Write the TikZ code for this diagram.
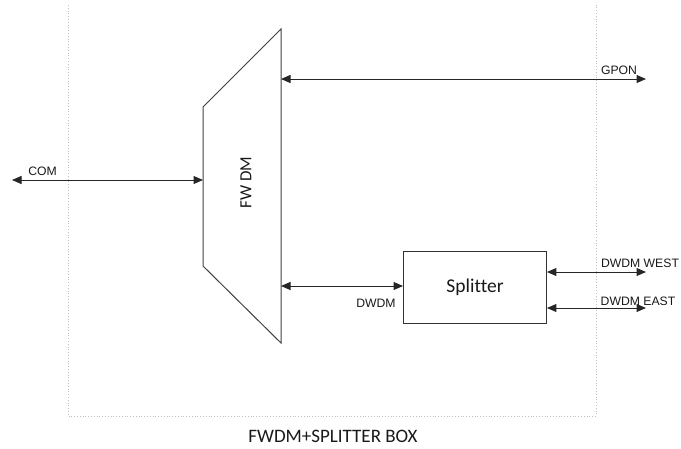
\documentclass[tikz,border=0pt]{standalone}
\usepackage{fontspec}
\setmainfont{Liberation Sans}
\newfontfamily\calib[Ligatures=NoCommon]{Carlito}
\usetikzlibrary{arrows.meta}
\begin{document}
\begin{tikzpicture}[x=1pt,y=-1pt,
  conn/.style={line width=1pt, black!85, {Triangle[length=9.5pt,width=8pt]}-{Triangle[length=9.5pt,width=8pt]}},
  lbl/.style={font=\fontsize{12.2}{13}\selectfont, text=black!90, inner sep=0pt},
  frame/.style={black!25, line width=0.8pt, dotted},
  blockline/.style={line width=1pt, black!75}]
\useasboundingbox (0,0) rectangle (681,448);
% dotted enclosure
\draw[frame] (68,5) -- (68,416) -- (596,416) -- (596,5);
% FWDM trapezoid
\coordinate (t1) at (281,29);
\coordinate (t2) at (281,343);
\coordinate (t3) at (203,266);
\coordinate (t4) at (203,107);
\draw[blockline, line join=miter] (t1) -- (t2) -- (t3) -- (t4) -- cycle;
\node[rotate=90, font=\calib\fontsize{17}{19}\selectfont, text=black!90] (fwdm) at (246,182.5) {FW DM};
% ports on trapezoid
\coordinate (comin) at (203,180);
\coordinate (gponin) at (281,79);
\coordinate (dwdmin) at (281,286);
% splitter
\node[draw, line width=0.9pt, black!80, text=black!90, minimum width=143pt, minimum height=72pt, inner sep=0pt,
      font=\calib\fontsize{19.5}{21}\selectfont] (split) at (475,287) {Splitter};
% free ends
\coordinate (comend) at (12,180);
\coordinate (gponend) at (646,79);
\coordinate (westend) at (646,272);
\coordinate (eastend) at (646,308);
% connectors
\draw[conn] (comend) -- (comin);
\draw[conn] (gponin) -- (gponend);
\draw[conn] (dwdmin) -- (split.west |- dwdmin);
\draw[conn] (split.east |- westend) -- (westend);
\draw[conn] (split.east |- eastend) -- (eastend);
% labels
\node[lbl] (lcom) at (42.5,171.5) {COM};
\node[lbl] (lgpon) at (619,70.5) {GPON};
\node[lbl] (ldwdm) at (376,303.5) {DWDM};
\node[lbl] (lwest) at (640,263.5) {DWDM WEST};
\node[lbl] (least) at (638,301) {DWDM EAST};
\node[font=\calib\fontsize{19}{20}\selectfont, text=black!90, inner sep=0pt] (title) at (333,436.5) {FWDM+SPLITTER BOX};
\end{tikzpicture}
\end{document}
